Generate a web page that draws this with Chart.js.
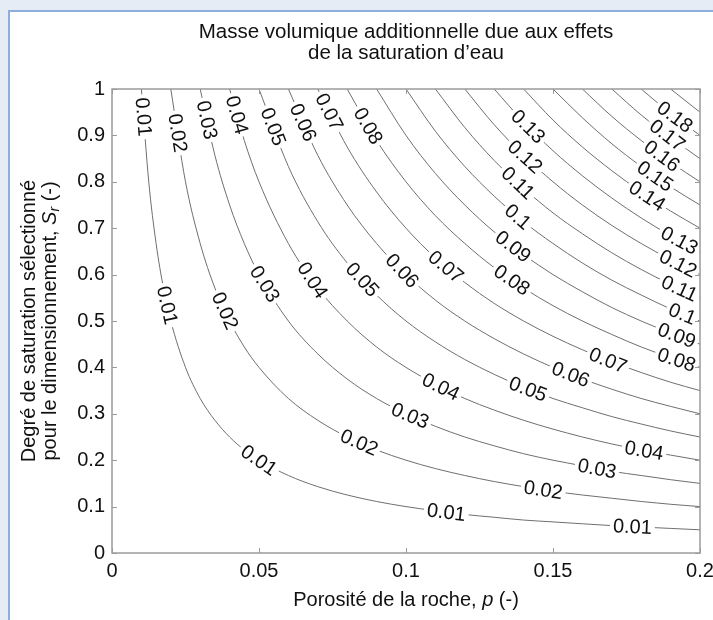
<!DOCTYPE html>
<html><head><meta charset="utf-8">
<script src="https://cdn.jsdelivr.net/npm/chart.js@4.4.0/dist/chart.umd.min.js"></script>
<style>
html,body{margin:0;padding:0;width:713px;height:620px;overflow:hidden;background:#e5ecf5;}
#panel{position:absolute;left:8px;top:10px;width:720px;height:640px;background:#fff;border-left:2px solid #8daddb;border-top:2px solid #8daddb;box-sizing:border-box;}
#wrap{position:absolute;left:0;top:0;width:713px;height:620px;}
canvas{display:block;}
</style></head><body>
<div id="panel"></div>
<div id="wrap"><canvas id="c" width="713" height="620"></canvas></div>
<script>
// ---- data ----
const porosity = [0.01, 0.0125, 0.015, 0.0175, 0.02, 0.025, 0.03, 0.035, 0.04, 0.045, 0.05, 0.06, 0.07, 0.08, 0.09, 0.10, 0.11, 0.12, 0.13, 0.14, 0.15, 0.16, 0.17, 0.18, 0.19, 0.20];
const contourLevels = [0.01,0.02,0.03,0.04,0.05,0.06,0.07,0.08,0.09,0.1,0.11,0.12,0.13,0.14,0.15,0.16,0.17,0.18,0.19];
// saturation Sr along each contour, for the last N porosity values
const sr01 = [1, 0.8, 0.667, 0.571, 0.5, 0.4, 0.333, 0.286, 0.25, 0.222, 0.2, 0.167, 0.143, 0.125, 0.111, 0.1, 0.091, 0.083, 0.077, 0.071, 0.067, 0.063, 0.059, 0.056, 0.053, 0.05];
const sr02 = [1, 0.8, 0.667, 0.571, 0.5, 0.444, 0.4, 0.333, 0.286, 0.25, 0.222, 0.2, 0.182, 0.167, 0.154, 0.143, 0.133, 0.125, 0.118, 0.111, 0.105, 0.1];
const sr03 = [1, 0.857, 0.75, 0.667, 0.6, 0.5, 0.429, 0.375, 0.333, 0.3, 0.273, 0.25, 0.231, 0.214, 0.2, 0.188, 0.176, 0.167, 0.158, 0.15];
const sr04 = [1, 0.889, 0.8, 0.667, 0.571, 0.5, 0.444, 0.4, 0.364, 0.333, 0.308, 0.286, 0.267, 0.25, 0.235, 0.222, 0.211, 0.2];
const sr05 = [1, 0.833, 0.714, 0.625, 0.556, 0.5, 0.455, 0.417, 0.385, 0.357, 0.333, 0.313, 0.294, 0.278, 0.263, 0.25];
const sr06 = [1, 0.857, 0.75, 0.667, 0.6, 0.545, 0.5, 0.462, 0.429, 0.4, 0.375, 0.353, 0.333, 0.316, 0.3];
const sr07 = [1, 0.875, 0.778, 0.7, 0.636, 0.583, 0.538, 0.5, 0.467, 0.438, 0.412, 0.389, 0.368, 0.35];
const sr08 = [1, 0.889, 0.8, 0.727, 0.667, 0.615, 0.571, 0.533, 0.5, 0.471, 0.444, 0.421, 0.4];
const sr09 = [1, 0.9, 0.818, 0.75, 0.692, 0.643, 0.6, 0.563, 0.529, 0.5, 0.474, 0.45];
const sr10 = [1, 0.909, 0.833, 0.769, 0.714, 0.667, 0.625, 0.588, 0.556, 0.526, 0.5];
const sr11 = [1, 0.917, 0.846, 0.786, 0.733, 0.688, 0.647, 0.611, 0.579, 0.55];
const sr12 = [1, 0.923, 0.857, 0.8, 0.75, 0.706, 0.667, 0.632, 0.6];
const sr13 = [1, 0.929, 0.867, 0.813, 0.765, 0.722, 0.684, 0.65];
const sr14 = [1, 0.933, 0.875, 0.824, 0.778, 0.737, 0.7];
const sr15 = [1, 0.938, 0.882, 0.833, 0.789, 0.75];
const sr16 = [1, 0.941, 0.889, 0.842, 0.8];
const sr17 = [1, 0.944, 0.895, 0.85];
const sr18 = [1, 0.947, 0.9];
const sr19 = [1, 0.95];
const contourSr = [sr01,sr02,sr03,sr04,sr05,sr06,sr07,sr08,sr09,sr10,sr11,sr12,sr13,sr14,sr15,sr16,sr17,sr18,sr19];

const xTicks = [0, 0.05, 0.1, 0.15, 0.2];
const xTickLabels = ['0', '0.05', '0.1', '0.15', '0.2'];
const yTicks = [0, 0.1, 0.2, 0.3, 0.4, 0.5, 0.6, 0.7, 0.8, 0.9, 1];
const yTickLabels = ['0', '0.1', '0.2', '0.3', '0.4', '0.5', '0.6', '0.7', '0.8', '0.9', '1'];

const titleLines = ['Masse volumique additionnelle due aux effets', 'de la saturation d\u2019eau'];

// approximate spots (p, Sr) of the inline contour labels
const labelSpots = [
  [0.01,0.0106,0.94],[0.02,0.0221,0.905],[0.03,0.0321,0.933],[0.04,0.0424,0.944],[0.05,0.0545,0.918],[0.06,0.0647,0.927],[0.07,0.0737,0.95],[0.08,0.087,0.92],
  [0.01,0.0195,0.535],[0.02,0.0377,0.52],[0.03,0.052,0.58],[0.04,0.0675,0.585],[0.05,0.0853,0.59],[0.06,0.099,0.61],[0.07,0.114,0.62],
  [0.08,0.136,0.588],[0.09,0.1364,0.66],[0.1,0.138,0.724],[0.11,0.138,0.797],[0.12,0.1405,0.854],[0.13,0.1415,0.919],
  [0.18,0.1915,0.94],[0.17,0.1888,0.9],[0.16,0.187,0.855],[0.15,0.1847,0.812],[0.14,0.182,0.769],
  [0.13,0.193,0.673],[0.12,0.1925,0.623],[0.11,0.193,0.57],[0.1,0.194,0.515],[0.09,0.192,0.468],[0.08,0.192,0.416],
  [0.07,0.1687,0.415],[0.06,0.156,0.385],[0.05,0.1415,0.353],[0.04,0.112,0.36],[0.03,0.1017,0.3],[0.02,0.0842,0.24],[0.01,0.05,0.2],
  [0.04,0.181,0.221],[0.03,0.165,0.182],[0.02,0.1467,0.136],[0.01,0.1137,0.088],[0.01,0.177,0.0565]
];

// ---- styles ----
const FAMILY = '"Liberation Sans", Arial, Helvetica, sans-serif';
const TEXT = '#111';
const LINE = '#6f6f6f';
const FRAME = '#9b9b9b';
const LABEL_FONT = '20px ' + FAMILY;

const datasets = contourLevels.map((lv, i) => {
  const s = contourSr[i];
  const ps = porosity.slice(porosity.length - s.length);
  return {
    label: String(lv),
    data: ps.map((p, k) => ({x: p, y: s[k]})),
    borderColor: LINE, borderWidth: 1, pointRadius: 0, fill: false,
    cubicInterpolationMode: 'monotone'
  };
});

let placed = [];
const contourPlugin = {
  id: 'contourPlugin',
  beforeDatasetsDraw(chart) {
    const ctx = chart.ctx;
    ctx.save();
    ctx.font = LABEL_FONT;
    placed = [];
    const xs = chart.scales.x, ys = chart.scales.y;
    labelSpots.forEach(([lv, p, s]) => {
      const di = contourLevels.indexOf(lv);
      const pts = chart.getDatasetMeta(di).data;
      const tx = xs.getPixelForValue(p), ty = ys.getPixelForValue(s);
      let best = null;
      for (let i = 0; i < pts.length - 1; i++) {
        const a = pts[i], b = pts[i + 1];
        const dx = b.x - a.x, dy = b.y - a.y, L2 = dx * dx + dy * dy;
        if (!L2) continue;
        let t = ((tx - a.x) * dx + (ty - a.y) * dy) / L2;
        t = Math.max(0, Math.min(1, t));
        const px = a.x + t * dx, py = a.y + t * dy;
        const d = (px - tx) ** 2 + (py - ty) ** 2;
        if (!best || d < best.d) best = {d, x: px, y: py, ang: Math.atan2(dy, dx)};
      }
      let ang = best.ang;
      if (ang > Math.PI / 2) ang -= Math.PI;
      if (ang < -Math.PI / 2) ang += Math.PI;
      const text = String(lv);
      placed.push({di, x: best.x, y: best.y, ang, text, w: ctx.measureText(text).width});
    });
    ctx.restore();
  },
  beforeDatasetDraw(chart, args) {
    const ctx = chart.ctx, ca = chart.chartArea;
    ctx.save();
    ctx.beginPath();
    ctx.rect(ca.left - 5, ca.top - 5, ca.width + 10, ca.height + 10);
    placed.filter(l => l.di === args.index).forEach(l => {
      const hw = l.w / 2 + 3, hh = 8, c = Math.cos(l.ang), s = Math.sin(l.ang);
      const cs = [[-hw, -hh], [hw, -hh], [hw, hh], [-hw, hh]].map(([u, v]) => [l.x + u * c - v * s, l.y + u * s + v * c]);
      ctx.moveTo(cs[0][0], cs[0][1]);
      for (let k = 1; k < 4; k++) ctx.lineTo(cs[k][0], cs[k][1]);
      ctx.closePath();
    });
    ctx.clip('evenodd');
  },
  afterDatasetDraw(chart) { chart.ctx.restore(); },
  afterDatasetsDraw(chart) {
    const ctx = chart.ctx;
    ctx.save();
    ctx.font = LABEL_FONT;
    ctx.fillStyle = TEXT;
    ctx.textAlign = 'center';
    ctx.textBaseline = 'middle';
    placed.forEach(l => {
      ctx.save();
      ctx.translate(l.x, l.y);
      ctx.rotate(l.ang);
      ctx.fillText(l.text, 0, 1);
      ctx.restore();
    });
    ctx.restore();
  },
  afterDraw(chart) {
    const ctx = chart.ctx, ca = chart.chartArea, xs = chart.scales.x, ys = chart.scales.y;
    ctx.save();
    // frame and inward ticks
    ctx.strokeStyle = FRAME; ctx.lineWidth = 1.5;
    ctx.strokeRect(ca.left, ca.top, ca.right - ca.left, ca.bottom - ca.top);
    ctx.lineWidth = 1;
    ctx.beginPath();
    xTicks.forEach(v => {
      const x = Math.round(xs.getPixelForValue(v)) + 0.5;
      ctx.moveTo(x, ca.bottom); ctx.lineTo(x, ca.bottom - 5);
      ctx.moveTo(x, ca.top); ctx.lineTo(x, ca.top + 5);
    });
    yTicks.forEach(v => {
      const y = Math.round(ys.getPixelForValue(v)) + 0.5;
      ctx.moveTo(ca.left, y); ctx.lineTo(ca.left + 5, y);
      ctx.moveTo(ca.right, y); ctx.lineTo(ca.right - 5, y);
    });
    ctx.stroke();

    ctx.fillStyle = TEXT;
    ctx.textBaseline = 'middle';
    ctx.textAlign = 'center';
    // title
    ctx.font = '20.5px ' + FAMILY;
    const cx = (ca.left + ca.right) / 2;
    ctx.fillText(titleLines[0], cx, 32);
    ctx.fillText(titleLines[1], cx, 53);

    // mixed-style text helper
    function mixed(parts, x, y) {
      const widths = parts.map(pt => { ctx.font = pt.font; return ctx.measureText(pt.t).width; });
      let cur = x - widths.reduce((a, b) => a + b, 0) / 2;
      ctx.textAlign = 'left';
      parts.forEach((pt, i) => { ctx.font = pt.font; ctx.fillText(pt.t, cur, y + (pt.dy || 0)); cur += widths[i]; });
    }
    const N = '20px ' + FAMILY, I = 'italic 20px ' + FAMILY, SUB = 'italic 14px ' + FAMILY;
    mixed([{t: 'Porosit\u00e9 de la roche, ', font: N}, {t: 'p', font: I}, {t: ' (-)', font: N}], cx, 600);

    const cy = (ca.top + ca.bottom) / 2;
    ctx.save();
    ctx.translate(29, cy);
    ctx.rotate(-Math.PI / 2);
    mixed([{t: 'Degr\u00e9 de saturation s\u00e9lectionn\u00e9', font: N}], 0, 0);
    ctx.restore();
    ctx.save();
    ctx.translate(50, cy);
    ctx.rotate(-Math.PI / 2);
    mixed([{t: 'pour le dimensionnement, ', font: N}, {t: 'S', font: I}, {t: 'r', font: SUB, dy: 5}, {t: ' (-)', font: N}], 0, 0);
    ctx.restore();
    ctx.restore();
  }
};

new Chart(document.getElementById('c'), {
  type: 'line',
  data: {datasets},
  options: {
    responsive: false,
    animation: false,
    events: [],
    layout: {padding: {left: 0, top: 89, right: 13, bottom: 32}},
    plugins: {legend: {display: false}, tooltip: {enabled: false}, title: {display: false}},
    scales: {
      x: {
        type: 'linear', min: 0, max: 0.2,
        afterBuildTicks: s => { s.ticks = xTicks.map(v => ({value: v})); },
        afterFit: s => { s.height = 35; s.paddingLeft = 0; s.paddingRight = 0; },
        grid: {display: false, drawTicks: false, tickLength: 0},
        border: {display: false},
        ticks: {autoSkip: false, maxRotation: 0, padding: 6, color: TEXT, font: {size: 20, family: FAMILY},
          callback: (v, i) => xTickLabels[i]}
      },
      y: {
        type: 'linear', min: 0, max: 1,
        afterBuildTicks: s => { s.ticks = yTicks.map(v => ({value: v})); },
        afterFit: s => { s.width = 112; s.paddingTop = 0; s.paddingBottom = 0; },
        grid: {display: false, drawTicks: false, tickLength: 0},
        border: {display: false},
        ticks: {autoSkip: false, padding: 7, color: TEXT, font: {size: 20, family: FAMILY},
          callback: (v, i) => yTickLabels[i]}
      }
    }
  },
  plugins: [contourPlugin]
});
</script>
</body></html>
